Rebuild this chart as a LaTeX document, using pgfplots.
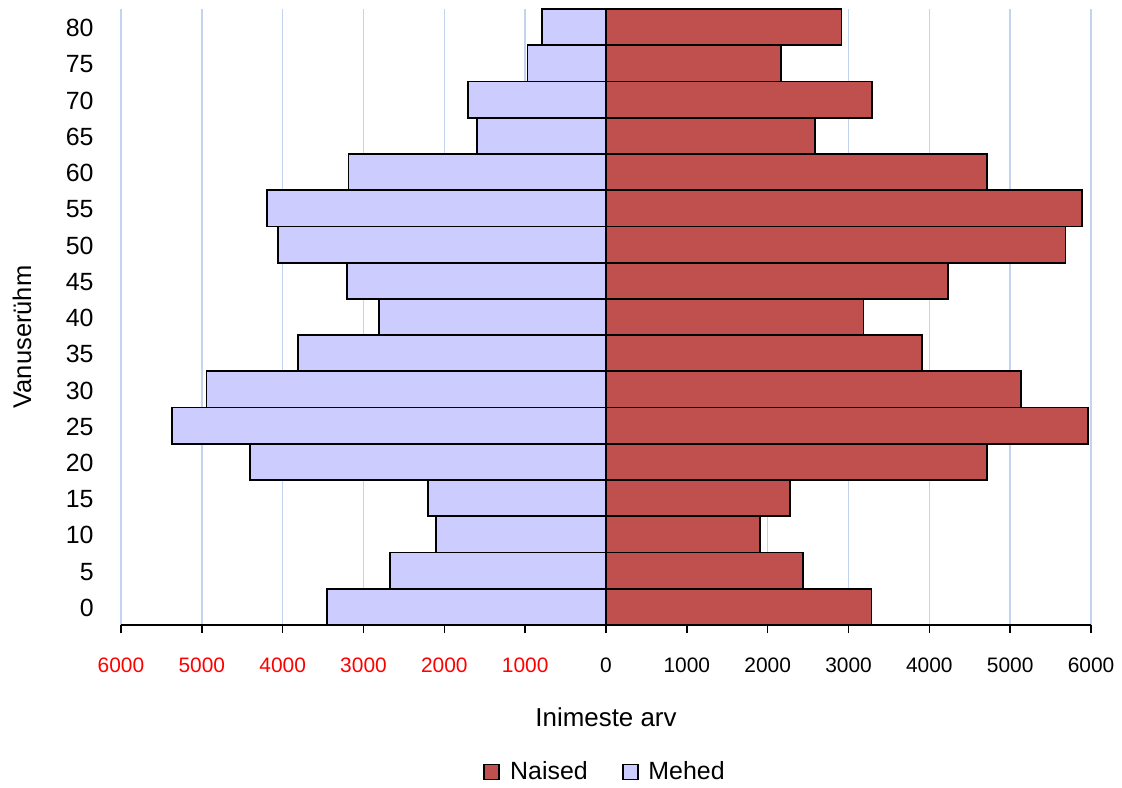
\documentclass[border=0pt]{standalone}
\usepackage{fontspec}
\setmainfont{Liberation Sans}
\usepackage{pgfplots}
\pgfplotsset{compat=1.18}
\definecolor{naised}{HTML}{C0504D}
\definecolor{mehed}{HTML}{CCCCFF}
\definecolor{gridc}{HTML}{C5D4EE}
\pgfplotstableread{
age naised mehed
0  3284 -3453
5  2436 -2676
10 1905 -2105
15 2280 -2200
20 4712 -4408
25 5959 -5372
30 5132 -4942
35 3910 -3809
40 3185 -2808
45 4231 -3205
50 5683 -4061
55 5885 -4190
60 4712 -3185
65 2584 -1600
70 3288 -1703
75 2160 -971
80 2914 -794
}\pyramid
\begin{document}
\begin{tikzpicture}[x=1bp,y=1bp]
\useasboundingbox (0,0) rectangle (561,393.5);
\begin{axis}[
  at={(60.5bp,81bp)}, anchor=south west,
  width=485bp, height=308bp, scale only axis,
  xmin=-6000, xmax=6000, ymin=-2.5, ymax=82.5,
  axis x line=bottom, axis y line=left,
  axis line style={-, line width=0.8bp},
  y axis line style={draw=none},
  xtick={-6000,-5000,-4000,-3000,-2000,-1000,0,1000,2000,3000,4000,5000,6000},
  xticklabels={\textcolor{red}{6000},\textcolor{red}{5000},\textcolor{red}{4000},\textcolor{red}{3000},\textcolor{red}{2000},\textcolor{red}{1000},0,1000,2000,3000,4000,5000,6000},
  ytick={0,5,...,80},
  /pgf/number format/assume math mode=true,
  xtick align=outside,
  major tick length=4bp,
  x tick style={black, line width=0.8bp},
  y tick style={draw=none},
  xmajorgrids, ymajorgrids=false,
  grid style={gridc, line width=0.8bp},
  yticklabel style={font=\fontsize{12.5}{15}\selectfont, anchor=east, inner sep=0pt, xshift=-11.5bp, yshift=-0.5bp},
  xticklabel style={font=\fontsize{10.5}{12}\selectfont, anchor=north, inner sep=0pt, yshift=-12bp},
  xlabel={Inimeste arv},
  ylabel={Vanuserühm},
  xlabel style={font=\fontsize{13}{15}\selectfont, at={(axis description cs:0.5,-0.1494)}, anchor=center, inner sep=0pt},
  ylabel style={font=\fontsize{12.8}{15}\selectfont, at={(axis description cs:-0.1021,0.4675)}, anchor=center, inner sep=0pt},
  legend style={at={(axis description cs:0.5,-0.2386)}, anchor=center, draw=none, fill=none,
    font=\fontsize{12.5}{15}\selectfont, legend columns=-1,
    /tikz/every odd column/.append style={column sep=3bp},
    /tikz/every even column/.append style={column sep=15bp}},
  legend cell align=left,
]
\addplot[xbar, bar width=5, bar shift=0pt, fill=naised, draw=black, line width=0.9bp,
  legend image code/.code={\draw[fill=naised, draw=black, line width=0.9bp] (0bp,-3.75bp) rectangle (7.5bp,3.75bp);}]
  table[x=naised, y=age] {\pyramid};
\addlegendentry{Naised}
\addplot[xbar, bar width=5, bar shift=0pt, fill=mehed, draw=black, line width=0.9bp,
  legend image code/.code={\draw[fill=mehed, draw=black, line width=0.9bp] (0bp,-3.75bp) rectangle (7.5bp,3.75bp);}]
  table[x=mehed, y=age] {\pyramid};
\addlegendentry{Mehed}
\end{axis}
\end{tikzpicture}
\end{document}
